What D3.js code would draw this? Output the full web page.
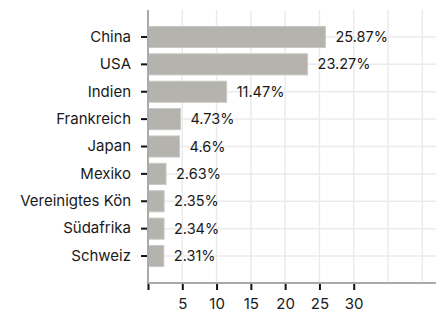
<!DOCTYPE html>
<meta charset="utf-8">
<head>
<style>
  body { margin: 0; background: #fff; }
  text { font-family: "Inter", "Noto Sans", sans-serif; }
</style>
</head>
<body>
<script src="https://d3js.org/d3.v7.min.js"></script>
<script>
// data
var countries = ["China", "USA", "Indien", "Frankreich", "Japan", "Mexiko", "Vereinigtes Kön", "Südafrika", "Schweiz"];
var shares = [25.87, 23.27, 11.47, 4.73, 4.6, 2.63, 2.35, 2.34, 2.31];
var shareLabels = ["25.87%", "23.27%", "11.47%", "4.73%", "4.6%", "2.63%", "2.35%", "2.34%", "2.31%"];
var xTicks = [5, 10, 15, 20, 25, 30];
var gridTicks = [5, 10, 15, 20, 25, 30, 35, 40];

var width = 440, height = 313;
var plot = { left: 148, right: 436, top: 10, bottom: 283 };

var svg = d3.select("body").append("svg")
    .attr("width", width)
    .attr("height", height);

var x = d3.scaleLinear().domain([0, 42]).range([plot.left, plot.right]);
var y = d3.scaleBand().domain(countries).range([plot.top, plot.bottom])
    .paddingInner(0.23).paddingOuter(0.6);

// grid
svg.append("g").selectAll("line")
    .data(gridTicks).enter().append("line")
    .attr("x1", function(d) { return x(d); })
    .attr("x2", function(d) { return x(d); })
    .attr("y1", plot.top).attr("y2", plot.bottom)
    .style("stroke", "#ebebeb").style("stroke-width", 1.5);

svg.append("g").selectAll("line")
    .data(countries).enter().append("line")
    .attr("x1", plot.left).attr("x2", plot.right)
    .attr("y1", function(d) { return y(d) + y.bandwidth() / 2; })
    .attr("y2", function(d) { return y(d) + y.bandwidth() / 2; })
    .style("stroke", "#ebebeb").style("stroke-width", 1.5);

// bars
svg.append("g").selectAll("rect")
    .data(countries).enter().append("rect")
    .attr("x", x(0))
    .attr("y", function(d) { return y(d); })
    .attr("width", function(d, i) { return x(shares[i]) - x(0); })
    .attr("height", y.bandwidth())
    .style("fill", "#b4b3ae")
    .style("stroke", "#c9c8c4")
    .style("stroke-width", 1);

// value labels
svg.append("g").selectAll("text")
    .data(countries).enter().append("text")
    .attr("x", function(d, i) { return x(shares[i]) + 10; })
    .attr("y", function(d) { return y(d) + y.bandwidth() / 2; })
    .attr("dy", "0.35em")
    .style("font-size", "14.5px")
    .style("fill", "#1a1a1a")
    .text(function(d, i) { return shareLabels[i]; });

// y axis
var yAxis = svg.append("g")
    .attr("transform", "translate(" + plot.left + ",0)")
    .call(d3.axisLeft(y).tickSize(7).tickPadding(10));
yAxis.select(".domain").remove();
yAxis.selectAll(".tick line").style("stroke", "#111").style("stroke-width", 2)
    .attr("x1", -1);
yAxis.selectAll(".tick text")
    .style("font-family", "Inter, 'Noto Sans', sans-serif")
    .style("font-size", "15px").style("fill", "#1a1a1a");
svg.append("line")
    .attr("x1", plot.left).attr("x2", plot.left).attr("y1", plot.top).attr("y2", plot.bottom)
    .style("stroke", "#aaa").style("stroke-width", 2);

// x axis
var xAxis = svg.append("g")
    .attr("transform", "translate(0," + plot.bottom + ")")
    .call(d3.axisBottom(x).tickValues([0].concat(xTicks))
        .tickFormat(function(d) { return d === 0 ? "" : d; })
        .tickSize(7).tickPadding(8));
xAxis.select(".domain").remove();
xAxis.selectAll(".tick line").style("stroke", "#111").style("stroke-width", 2);
xAxis.selectAll(".tick text")
    .style("font-family", "Inter, 'Noto Sans', sans-serif")
    .style("font-size", "15px").style("fill", "#1a1a1a");
svg.append("line")
    .attr("x1", plot.left).attr("x2", plot.right).attr("y1", plot.bottom).attr("y2", plot.bottom)
    .style("stroke", "#aaa").style("stroke-width", 2);
</script>
</body>
